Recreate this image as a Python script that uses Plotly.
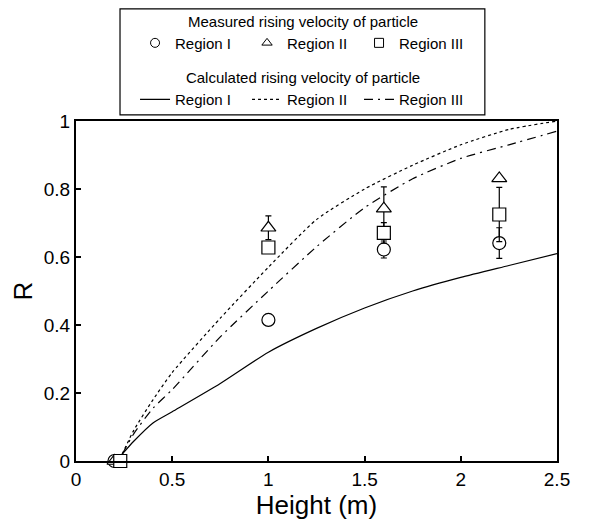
import plotly.graph_objects as go

# Measured data
meas_x = [0.2, 1.0, 1.6, 2.2]
meas_r1 = [0.0, 0.415, 0.622, 0.641]
meas_r1_err = [0.0, 0.0, 0.025, 0.045]
meas_r2 = [0.0, 0.686, 0.742, 0.831]
meas_r2_err = [0.0, 0.035, 0.064, 0.0]
meas_x3 = [0.23, 1.0, 1.6, 2.2]
meas_r3 = [0.0, 0.628, 0.671, 0.725]
meas_r3_err = [0.0, 0.0, 0.03, 0.08]

# Calculated curves
calc_x = [0.24, 0.3, 0.4, 0.5, 0.75, 1.0, 1.25, 1.5, 1.75, 2.0, 2.25, 2.5]
calc_r1 = [0.02, 0.058, 0.112, 0.145, 0.228, 0.32, 0.39, 0.45, 0.50, 0.54, 0.575, 0.61]
calc_r2 = [0.02, 0.09, 0.18, 0.26, 0.42, 0.57, 0.71, 0.80, 0.87, 0.93, 0.975, 1.0]
calc_r3 = [0.02, 0.08, 0.155, 0.21, 0.365, 0.50, 0.63, 0.745, 0.83, 0.89, 0.93, 0.97]

x_ticks = [0, 0.5, 1, 1.5, 2, 2.5]
x_tick_text = ["0", "0.5", "1", "1.5", "2", "2.5"]
y_ticks = [0, 0.2, 0.4, 0.6, 0.8, 1]
y_tick_text = ["0", "0.2", "0.4", "0.6", "0.8", "1"]

region_names = ["Region I", "Region II", "Region III"]
symbols = ["circle", "triangle-up", "square"]

FONT = "Liberation Sans, Arial, sans-serif"
fig = go.Figure()

line_common = dict(color="black", width=1.2, shape="spline", smoothing=0.6)
dashes = ["solid", "3px,3px", "9px,5px,2px,5px"]
for ys, dash, nm in zip([calc_r1, calc_r2, calc_r3], dashes, region_names):
    fig.add_trace(go.Scatter(x=calc_x, y=ys, mode="lines", name=nm,
                             line=dict(line_common, dash=dash), legend="legend2"))

def err(vals):
    return dict(type="data", array=vals, color="black", thickness=1.2, width=3, visible=True)

mk = dict(size=13, color="white", line=dict(color="black", width=1.2))
for xs, ys, es, sym, nm in zip([meas_x, meas_x, meas_x3], [meas_r1, meas_r2, meas_r3],
                               [meas_r1_err, meas_r2_err, meas_r3_err], symbols, region_names):
    fig.add_trace(go.Scatter(x=xs, y=ys, mode="markers", name=nm, showlegend=False,
                             marker=dict(mk, symbol=sym), error_y=err(es),
                             cliponaxis=False))

# legend entries for measured markers (smaller symbols, as in the reference legend)
for sym, nm in zip(symbols, region_names):
    fig.add_trace(go.Scatter(x=[None], y=[None], mode="markers", name=nm,
                             marker=dict(size=9, color="white", symbol=sym,
                                         line=dict(color="black", width=1)),
                             legend="legend"))

axis_common = dict(showline=True, linecolor="black", linewidth=2, mirror=True,
                   ticks="inside", ticklen=5, tickwidth=1.5, tickcolor="black",
                   showgrid=False, zeroline=False, automargin=False,
                   tickfont=dict(family=FONT, size=19, color="black"))

leg_common = dict(orientation="h", x=0.472, xanchor="center", yanchor="top",
                  font=dict(family=FONT, size=15), bgcolor="rgba(0,0,0,0)",
                  entrywidth=67, itemwidth=30, tracegroupgap=0)

fig.update_layout(
    width=582, height=520,
    margin=dict(l=68, r=33, t=113, b=67, autoexpand=False),
    paper_bgcolor="white", plot_bgcolor="white",
    font=dict(family=FONT, color="black"),
    xaxis=dict(axis_common, range=[0, 2.5], tickvals=x_ticks, ticktext=x_tick_text,
               title=dict(text="Height (m)", font=dict(family=FONT, size=26), standoff=6)),
    yaxis=dict(axis_common, range=[0, 1], tickvals=y_ticks, ticktext=y_tick_text,
               title=dict(text="R", font=dict(family=FONT, size=26), standoff=12)),
    legend=dict(leg_common, y=1.335,
                title=dict(text="Measured rising velocity of particle", side="top center",
                           font=dict(family=FONT, size=15))),
    legend2=dict(leg_common, y=1.169,
                 title=dict(text="Calculated rising velocity of particle", side="top center",
                            font=dict(family=FONT, size=15))),
    shapes=[dict(type="rect", xref="paper", yref="paper", x0=0.0915, x1=0.850,
                 y0=1.018, y1=1.3295, line=dict(color="black", width=1.2))],
)

fig.write_html("out.html")
